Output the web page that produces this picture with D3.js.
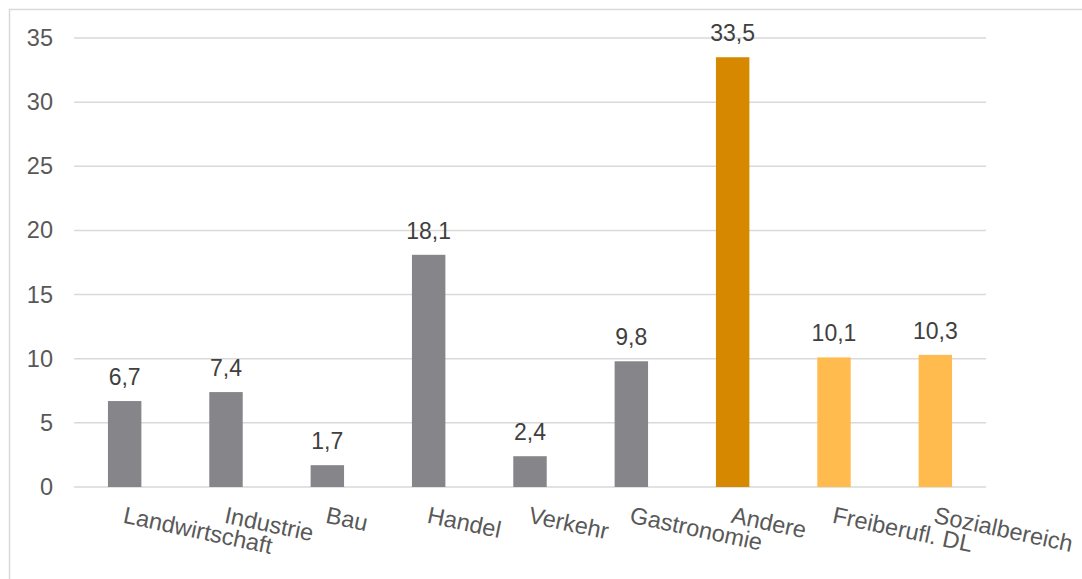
<!DOCTYPE html>
<html>
<head>
<meta charset="utf-8">
<script src="https://cdn.jsdelivr.net/npm/d3@7"></script>
<style>
  body { margin: 0; background: #fff; }
  svg { display: block; font-family: "Liberation Sans", Arial, sans-serif; }
</style>
</head>
<body>
<div id="chart"></div>
<script>
const categories = ['Landwirtschaft', 'Industrie', 'Bau', 'Handel', 'Verkehr', 'Gastronomie', 'Andere', 'Freiberufl. DL', 'Sozialbereich'];
const values = [6.7, 7.4, 1.7, 18.1, 2.4, 9.8, 33.5, 10.1, 10.3];
const barColors = ['#86858a', '#86858a', '#86858a', '#86858a', '#86858a', '#86858a', '#d68800', '#ffbb4d', '#ffbb4d'];
const yTicks = [0, 5, 10, 15, 20, 25, 30, 35];

const width = 1082;
const height = 579;
const margin = { top: 38, right: 96, bottom: 92, left: 74 };

const svg = d3.select('#chart').append('svg')
  .attr('width', width)
  .attr('height', height);

// chart area frame (cut off at right and bottom)
svg.append('rect')
  .attr('x', 9.5)
  .attr('y', 9.5)
  .attr('width', width + 20)
  .attr('height', height + 20)
  .attr('fill', 'none')
  .attr('stroke', '#d9d9d9')
  .attr('stroke-width', 1.5);

const x = d3.scaleBand()
  .domain(categories)
  .range([margin.left, width - margin.right])
  .paddingInner(0.67)
  .paddingOuter(0.335);

const y = d3.scaleLinear()
  .domain([0, 35])
  .range([height - margin.bottom, margin.top]);

// gridlines
svg.append('g')
  .selectAll('line')
  .data(yTicks)
  .join('line')
  .attr('x1', margin.left)
  .attr('x2', width - margin.right)
  .attr('y1', (d) => y(d))
  .attr('y2', (d) => y(d))
  .attr('stroke', '#d9d9d9')
  .attr('stroke-width', 1.5);

// y axis labels
const yAxis = d3.axisLeft(y).tickValues(yTicks).tickSize(0).tickPadding(21);
svg.append('g')
  .attr('transform', `translate(${margin.left},0)`)
  .call(yAxis)
  .call((g) => g.select('.domain').remove())
  .selectAll('text')
  .attr('font-size', 23.5)
  .attr('font-family', '"Liberation Sans", Arial, sans-serif')
  .attr('fill', '#595959');

// bars
svg.append('g')
  .selectAll('rect')
  .data(values)
  .join('rect')
  .attr('x', (d, i) => x(categories[i]))
  .attr('y', (d) => y(d))
  .attr('width', x.bandwidth())
  .attr('height', (d) => y(0) - y(d))
  .attr('fill', (d, i) => barColors[i]);

// data labels
svg.append('g')
  .selectAll('text')
  .data(values)
  .join('text')
  .attr('x', (d, i) => x(categories[i]) + x.bandwidth() / 2)
  .attr('y', (d) => y(d) - 16)
  .attr('text-anchor', 'middle')
  .attr('font-size', 23)
  .attr('fill', '#404040')
  .text((d) => d3.format('.1f')(d).replace('.', ','));

// category labels, rotated
svg.append('g')
  .selectAll('text')
  .data(categories)
  .join('text')
  .attr('transform', (d) => `translate(${x(d) + x.bandwidth() / 2 + 1},${y(0) + 19}) rotate(12)`)
  .attr('dy', '0.72em')
  .attr('text-anchor', 'start')
  .attr('font-size', 23.5)
  .attr('fill', '#595959')
  .text((d) => d);
</script>
</body>
</html>
